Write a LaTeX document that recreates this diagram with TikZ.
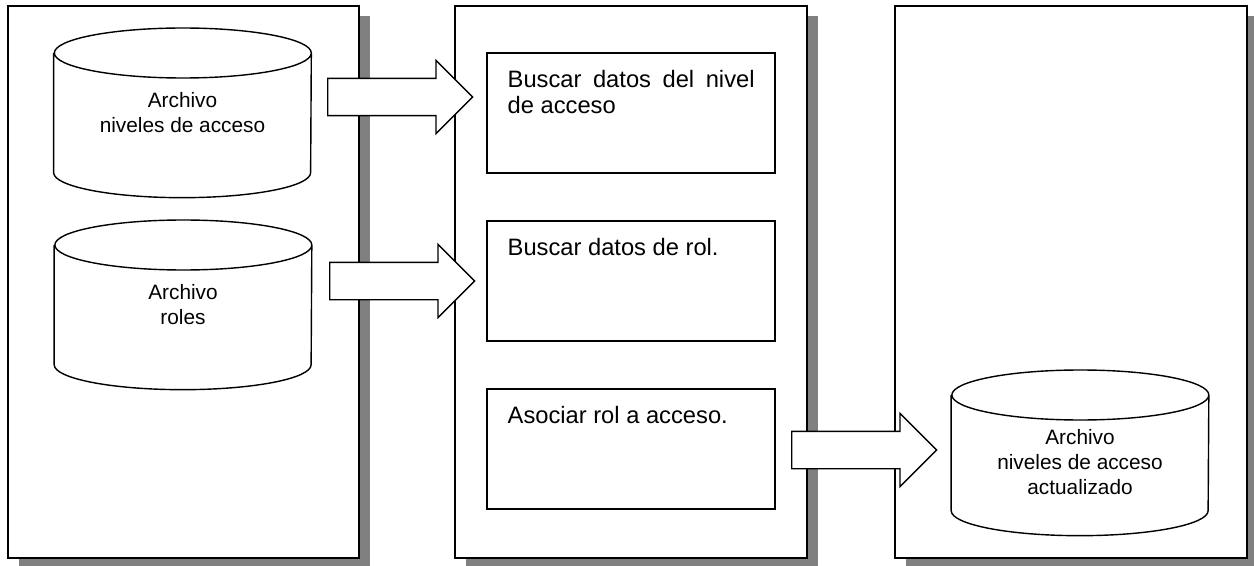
\documentclass[tikz,border=0pt]{standalone}
\usepackage{fontspec}
\setmainfont{Liberation Sans}
\usetikzlibrary{shapes.arrows, shadows, positioning}

\begin{document}
\begin{tikzpicture}[
    x=0.02cm, y=-0.02cm,
    panel/.style={rectangle, draw=black, line width=1.1pt, fill=white,
                  minimum width=7.03cm, minimum height=11.04cm,
                  drop shadow={shadow xshift=0.22cm, shadow yshift=-0.2cm, fill=black!50, opacity=1}},
    archivo/.style={rectangle, minimum width=5.14cm, minimum height=3.38cm, align=center,
                    font=\fontsize{11.85}{14.2}\selectfont},
    borde/.style={line width=0.8pt, line join=round},
    paso/.style={rectangle, draw, line width=0.8pt, minimum width=5.76cm, minimum height=2.4cm},
    pasotexto/.style={anchor=north west, inner sep=0pt, text width=4.94cm, align=justify,
                      font=\fontsize{13.5}{14.4}\selectfont},
    flecha/.style={single arrow, draw, line width=0.8pt, fill=white, inner xsep=0pt, inner ysep=0.36cm,
                   minimum height=2.9cm, minimum width=1.44cm,
                   single arrow head extend=0.36cm, single arrow tip angle=90}
  ]
  \useasboundingbox (0,0) rectangle (1254,565);
  % paneles
  \node[panel] (origen) at (183.5,282) {};
  \node[panel] (proceso) at (631,282) {};
  \node[panel] (destino) at (1071,282) {};
  % archivos
  \node[archivo, anchor=north] (niveles) at (182.5,28) {Archivo\\niveles de acceso};
  \node[archivo, anchor=north] (roles) at (183,220) {Archivo\\roles};
  \node[archivo, anchor=north, minimum height=3.3cm, text height=47pt] (actualizado) at (1080,370)
    {Archivo\\niveles de acceso\\actualizado};
  \foreach \c in {niveles, roles, actualizado}
    \draw[borde] ([yshift=-0.5cm]\c.north west) -- ([yshift=0.5cm]\c.south west)
      arc[start angle=180, end angle=360, x radius=2.57cm, y radius=0.5cm]
      -- ([yshift=-0.5cm]\c.north east)
      arc[start angle=0, end angle=360, x radius=2.57cm, y radius=0.5cm];
  % pasos
  \node[paso] (buscarnivel) at (631,113) {};
  \node[paso] (buscarrol) at (631,281) {};
  \node[paso] (asociar) at (631,449) {};
  \node[pasotexto] (textonivel) at ([shift={(21,18)}]buscarnivel.north west) {Buscar datos del nivel de acceso};
  \node[pasotexto] (textorol) at ([shift={(21,18)}]buscarrol.north west) {Buscar datos de rol.};
  \node[pasotexto] (textoasociar) at ([shift={(21,18)}]asociar.north west) {Asociar rol a acceso.};
  % flechas
  \node[flecha, anchor=tail] (entrada1) at (327,97) {};
  \node[flecha, anchor=tail] (entrada2) at (329,281) {};
  \node[flecha, anchor=tail] (salida) at (791,450) {};
\end{tikzpicture}
\end{document}
